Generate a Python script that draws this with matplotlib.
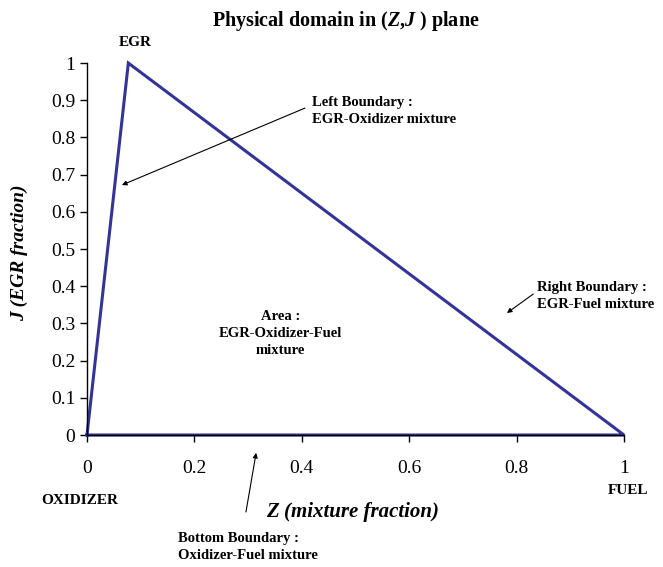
import matplotlib.pyplot as plt

# triangle vertices: oxidizer (0,0), EGR (Zegr,1), fuel (1,0)
z = [0.0, 0.077, 1.0, 0.0]
j = [0.0, 1.0, 0.0, 0.0]

xticks = [0, 0.2, 0.4, 0.6, 0.8, 1]
xticklabels = ["0", "0.2", "0.4", "0.6", "0.8", "1"]
yticks = [0, 0.1, 0.2, 0.3, 0.4, 0.5, 0.6, 0.7, 0.8, 0.9, 1]
yticklabels = ["0", "0.1", "0.2", "0.3", "0.4", "0.5", "0.6", "0.7", "0.8", "0.9", "1"]

plt.rcParams['font.family'] = ['Liberation Serif', 'DejaVu Serif']
plt.rcParams['mathtext.fontset'] = 'custom'
plt.rcParams['mathtext.rm'] = 'Liberation Serif:bold'
plt.rcParams['mathtext.it'] = 'Liberation Serif:bold:italic'
plt.rcParams['mathtext.bf'] = 'Liberation Serif:bold'

fig = plt.figure(figsize=(6.63, 5.67), dpi=100)
ax = fig.add_axes([0.1312, 0.2328, 0.81, 0.656])

ax.plot(z, j, color='#333399', lw=2.2, clip_on=False, solid_joinstyle='miter')

ax.set_xlim(0, 1)
ax.set_ylim(0, 1)
ax.set_xticks(xticks)
ax.set_xticklabels(xticklabels)
ax.set_yticks(yticks)
ax.set_yticklabels(yticklabels)
ax.tick_params(axis='x', direction='out', length=5, width=1, pad=13, labelsize=14)
ax.tick_params(axis='y', direction='out', length=5, width=1, pad=3.5, labelsize=14)
for s in ['top', 'right']:
    ax.spines[s].set_visible(False)
for s in ['left', 'bottom']:
    ax.spines[s].set_linewidth(1.0)

fig.text(0.522, 0.963, "Physical domain in ($Z$,$J$ ) plane", ha='center', va='center',
         fontsize=14.5, fontweight='bold')

ax.set_xlabel("Z (mixture fraction)", fontsize=15, fontweight='bold', style='italic')
ax.xaxis.set_label_coords(0.494, -0.181)
ax.set_ylabel("J (EGR fraction)", fontsize=14, fontweight='bold', style='italic')
ax.yaxis.set_label_coords(-0.11, 0.49)

bold = dict(fontsize=10.5, fontweight='bold', annotation_clip=False)
small = dict(fontsize=11, fontweight='bold', annotation_clip=False)
arrow = dict(arrowstyle='-|>', color='black', lw=0.8, mutation_scale=7, shrinkA=0, shrinkB=0)

ax.annotate("EGR", xy=(0.089, 1.054), ha='center', va='center', **small)
ax.annotate("OXIDIZER", xy=(-0.013, -0.175), ha='center', va='center', **small)
ax.annotate("FUEL", xy=(1.007, -0.148), ha='center', va='center', **small)

ax.annotate("Left Boundary :\nEGR-Oxidizer mixture", xy=(0.419, 0.871),
            ha='left', va='center', linespacing=1.4, **bold)
ax.annotate("", xy=(0.065, 0.672), xytext=(0.406, 0.879), arrowprops=arrow, annotation_clip=False)

ax.annotate("Right Boundary :\nEGR-Fuel mixture", xy=(0.838, 0.374),
            ha='left', va='center', linespacing=1.4, **bold)
ax.annotate("", xy=(0.782, 0.328), xytext=(0.831, 0.379), arrowprops=arrow, annotation_clip=False)

ax.annotate("Area :\nEGR-Oxidizer-Fuel\nmixture", xy=(0.36, 0.274),
            ha='center', va='center', linespacing=1.4, **bold)

ax.annotate("Bottom Boundary :\nOxidizer-Fuel mixture", xy=(0.169, -0.301),
            ha='left', va='center', linespacing=1.4, **bold)
ax.annotate("", xy=(0.315, -0.048), xytext=(0.296, -0.207), arrowprops=arrow, annotation_clip=False)

fig.savefig("out.png", dpi=100)
